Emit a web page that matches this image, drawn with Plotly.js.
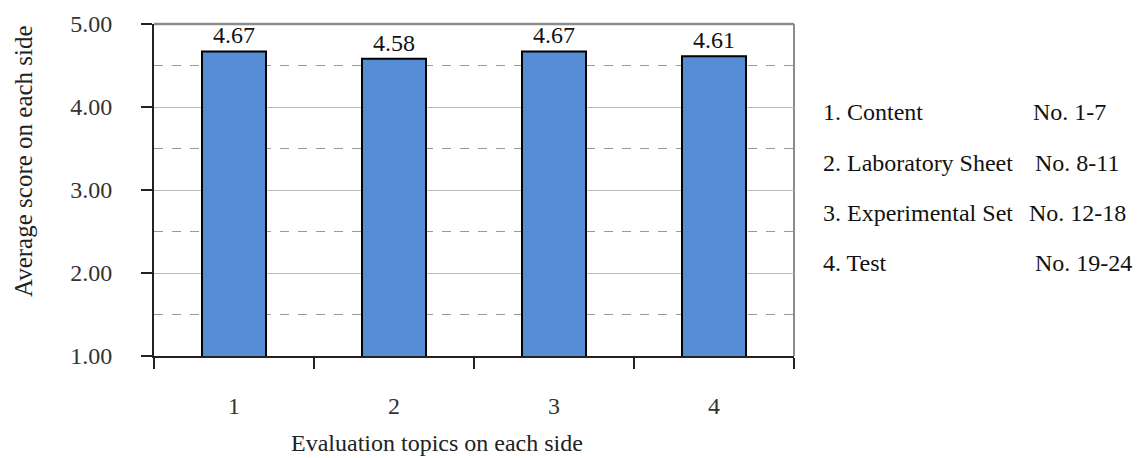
<!DOCTYPE html>
<html>
<head>
<meta charset="utf-8">
<script src="https://cdn.plot.ly/plotly-3.0.1.min.js"></script>
<style>html,body{margin:0;padding:0;background:#fff;}#chart{width:1139px;height:458px;}</style>
</head>
<body>
<div id="chart"></div>
<script>
// ---- data ----
var categories = ["1", "2", "3", "4"];
var averageScores = [4.67, 4.58, 4.67, 4.61];
var topicNames = ["1. Content", "2. Laboratory Sheet", "3. Experimental Set", "4. Test"];
var topicItems = ["No. 1-7", "No. 8-11", "No. 12-18", "No. 19-24"];
var yTickValues = [1, 2, 3, 4, 5];

// ---- layout constants ----
var W = 1139, H = 458;
var L = 154, R = 345, T = 24, B = 102;
var pw = W - L - R, ph = H - T - B;
function px2x(px) { return (px - L) / pw; }
function py2y(py) { return 1 - (py - T) / ph; }
var FONT = "Liberation Serif";
var FS = 24;

var rowY = [112, 163, 213, 263];
var nameX = 821;
var itemX = [1031, 1033, 1027, 1033];

var annotations = [];
for (var i = 0; i < topicNames.length; i++) {
  annotations.push({
    text: topicNames[i], xref: "paper", yref: "paper",
    x: px2x(nameX), y: py2y(rowY[i]), xanchor: "left", yanchor: "middle",
    showarrow: false, font: {family: FONT, size: FS, color: "#111"}
  });
  annotations.push({
    text: topicItems[i], xref: "paper", yref: "paper",
    x: px2x(itemX[i]), y: py2y(rowY[i]), xanchor: "left", yanchor: "middle",
    showarrow: false, font: {family: FONT, size: FS, color: "#111"}
  });
}
annotations.push({
  text: "Evaluation topics on each side", xref: "paper", yref: "paper",
  x: px2x(437), y: py2y(443), xanchor: "center", yanchor: "middle",
  showarrow: false, font: {family: FONT, size: FS, color: "#222"}
});
annotations.push({
  text: "Average score on each side", xref: "paper", yref: "paper",
  x: px2x(23), y: py2y(161), xanchor: "center", yanchor: "middle", textangle: -90,
  showarrow: false, font: {family: FONT, size: 25, color: "#222"}
});

var trace = {
  type: "bar",
  x: categories,
  y: averageScores,
  width: 0.4,
  marker: {color: "#558ED5", line: {color: "#000", width: 2}},
  text: averageScores.map(function (v) { return v.toFixed(2); }),
  textposition: "outside",
  cliponaxis: false,
  textfont: {family: FONT, size: FS, color: "#111"},
  hoverinfo: "skip"
};

var layout = {
  width: W, height: H,
  margin: {l: L, r: R, t: T, b: B, pad: 0},
  paper_bgcolor: "#fff", plot_bgcolor: "#fff",
  showlegend: false,
  font: {family: FONT, size: FS, color: "#222"},
  bargap: 0.6,
  xaxis: {
    type: "category",
    range: [-0.5, 3.5],
    tickson: "boundaries",
    ticks: "outside", ticklen: 11, tickwidth: 1.5, tickcolor: "#222",
    ticklabelstandoff: 27,
    showline: true, linecolor: "#222", linewidth: 2,
    showgrid: false, zeroline: false,
    tickfont: {family: FONT, size: FS, color: "#333"}
  },
  yaxis: {
    range: [1, 5],
    tickvals: yTickValues,
    ticktext: yTickValues.map(function (v) { return v.toFixed(2); }),
    ticks: "outside", ticklen: 11, tickwidth: 1.5, tickcolor: "#222",
    ticklabelstandoff: 24,
    showline: true, linecolor: "#222", linewidth: 2,
    showgrid: true, gridcolor: "#bdbdbd", gridwidth: 1,
    zeroline: false,
    minor: {dtick: 0.5, tick0: 1, showgrid: true, gridcolor: "#9a9a9a", gridwidth: 1, griddash: "dash", ticks: ""},
    tickfont: {family: FONT, size: FS, color: "#333"}
  },
  shapes: [
    {type: "line", xref: "paper", yref: "paper", x0: 0, x1: 1, y0: 1, y1: 1,
     line: {color: "#8c8c8c", width: 2.5}, layer: "below"},
    {type: "line", xref: "paper", yref: "paper", x0: 1, x1: 1, y0: 0, y1: 1,
     line: {color: "#8c8c8c", width: 2}, layer: "below"}
  ],
  annotations: annotations
};

Plotly.newPlot("chart", [trace], layout, {displayModeBar: false, staticPlot: true});
</script>
</body>
</html>
